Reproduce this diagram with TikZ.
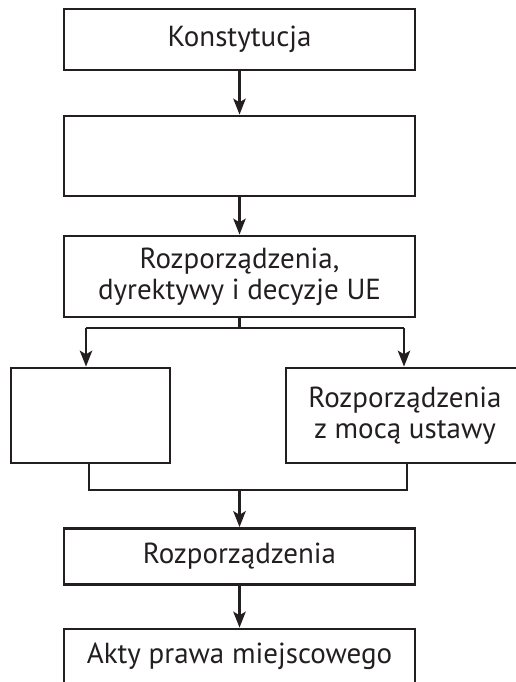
\documentclass[tikz,border=0pt]{standalone}
\usepackage{fontspec}
\setmainfont{PT Sans}
\usepackage{tikz}
\usetikzlibrary{positioning, arrows.meta}
\definecolor{inkGray}{HTML}{231F20}
\tikzstyle{lawBox}=[draw=inkGray, line width=1.6pt, rectangle, inner sep=0pt, align=center, text=inkGray, font=\fontsize{16.5}{17.5}\selectfont]
\tikzstyle{lawFlow}=[-{Stealth[length=9pt, width=7pt, inset=2pt]}, draw=inkGray, line width=1.6pt]
\tikzstyle{lawLine}=[draw=inkGray, line width=1.6pt]

\begin{document}
\begin{tikzpicture}[x=0.02cm, y=-0.02cm]

    \clip (0,0) rectangle (516,682);
    \useasboundingbox (0,0) rectangle (516,682);

    % boxes

    \node[lawBox, minimum width=351*0.02cm, minimum height=61*0.02cm] (konst) at (239.5,39.5) {Konstytucja};
    \node[lawBox, minimum width=351*0.02cm, minimum height=80*0.02cm] (ustawy) at (239.5,156) {};
    \node[lawBox, minimum width=351*0.02cm, minimum height=81*0.02cm] (unia) at (239.5,276.5) {Rozporządzenia,\\dyrektywy i decyzje UE};
    \node[lawBox, minimum width=159*0.02cm, minimum height=95*0.02cm] (umowy) at (90.5,415.5) {};
    \node[lawBox, minimum width=238*0.02cm, minimum height=95*0.02cm] (mocUst) at (405,415.5) {Rozporządzenia\\z mocą ustawy};
    \node[lawBox, minimum width=351*0.02cm, minimum height=56*0.02cm] (rozp) at (239.5,556.5) {Rozporządzenia};
    \node[lawBox, minimum width=351*0.02cm, minimum height=55*0.02cm] (akty) at (239.5,656.5) {Akty prawa miejscowego};

    % joints

    \coordinate (split) at (239.5,328);
    \coordinate (splitL) at (86,328);
    \coordinate (splitR) at (404,328);
    \coordinate (joinL) at (89,490);
    \coordinate (joinR) at (407,490);
    \coordinate (join) at (239.5,490);

    % connectors

    \draw[lawFlow] (konst) -- (ustawy);
    \draw[lawFlow] (ustawy) -- (unia);
    \draw[lawLine] (unia.south) -- (split);
    \draw[lawLine] (splitL) -- (splitR);
    \draw[lawFlow] (splitL) -- (splitL |- umowy.north);
    \draw[lawFlow] (splitR) -- (splitR |- mocUst.north);
    \draw[lawLine] (joinL |- umowy.south) -- (joinL) -- (joinR) -- (joinR |- mocUst.south);
    \draw[lawFlow] (join) -- (rozp);
    \draw[lawFlow] (rozp) -- (akty);

\end{tikzpicture}
\end{document}
